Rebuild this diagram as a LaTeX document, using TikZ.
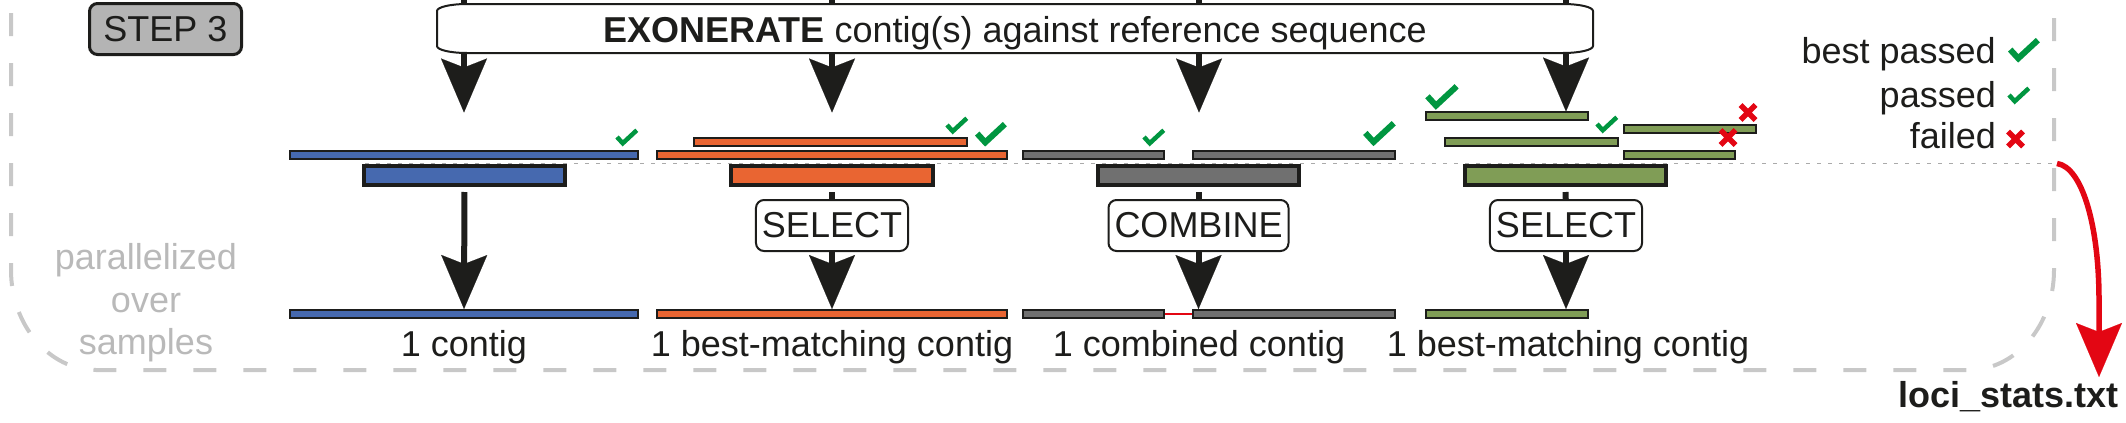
\documentclass[tikz,border=0pt]{standalone}
\usepackage{fontspec}
\setmainfont{Liberation Sans}
\usetikzlibrary{arrows.meta}
\definecolor{ink}{RGB}{29,29,27}
\definecolor{cblue}{RGB}{70,105,175}
\definecolor{corange}{RGB}{233,101,50}
\definecolor{cgray}{RGB}{112,112,112}
\definecolor{cgreen}{RGB}{128,157,86}
\definecolor{chkgreen}{RGB}{0,150,64}
\definecolor{xred}{RGB}{227,6,19}
\definecolor{framegray}{RGB}{200,200,200}
\definecolor{txtgray}{RGB}{185,185,185}
\definecolor{dotgray}{RGB}{170,170,170}
\definecolor{stepgray}{RGB}{180,180,180}
\newcommand\mytxt{\fontsize{36pt}{42pt}\selectfont}
\newcommand\Chk[4]{\draw[chk, line width=#4] ({#1+0.12*#3},{#2+0.36*#3}) -- ({#1+0.35*#3},{#2+0.61*#3}) -- ({#1+0.91*#3},{#2+0.09*#3});}
\newcommand\Xmk[2]{\draw[xmk] ({#1-7.5},{#2-7.5}) -- ({#1+7.5},{#2+7.5}) ({#1-7.5},{#2+7.5}) -- ({#1+7.5},{#2-7.5});}
\begin{document}
\begin{tikzpicture}[x=1pt,y=-1pt,
  lbl/.style={font=\mytxt, inner sep=0pt, anchor=base, text=ink},
  stepbox/.style={draw=ink, line width=3pt, fill=stepgray, rounded corners=8pt, minimum width=152pt, minimum height=51pt, inner sep=0pt, font=\mytxt, text=ink},
  thickbox/.style={draw=ink, line width=4pt, minimum height=19pt, inner sep=0pt},
  barnode/.style={draw=ink, line width=2pt, minimum height=7.5pt, inner sep=0pt},
  bar/.style={draw=ink, line width=2pt},
  opbox/.style={draw=ink, line width=2pt, fill=white, rounded corners=8pt, minimum height=51pt, inner xsep=6pt, inner ysep=0pt, font=\mytxt, text=ink},
  bigarr/.style={draw=ink, line width=6pt, -{Stealth[length=54pt,width=46pt,inset=9pt,line width=0.1pt]}},
  redarr/.style={draw=xred, line width=5.5pt, -{Stealth[length=54pt,width=46pt,inset=9pt,line width=0.1pt]}},
  frame/.style={draw=framegray, line width=4pt, dash pattern=on 23pt off 27pt},
  dotln/.style={draw=dotgray, line width=1.5pt, dash pattern=on 4pt off 7pt},
  chk/.style={draw=chkgreen, line join=miter},
  xmk/.style={draw=xred, line width=5.5pt},
  headbox/.style={draw=ink, line width=2pt, fill=white}
]
\useasboundingbox (0,0) rectangle (2126,423);

% dashed frame
\draw[frame] (11,13) -- (11,270) .. controls (11,325.2) and (49.1,370) .. (96,370)
  -- (1969,370) .. controls (2015.9,370) and (2054,325.2) .. (2054,270) -- (2054,0);

% dotted reference line
\coordinate (dotstart) at (365,163.5);
\coordinate (dotend) at (2057,163.5);
\draw[dotln] (dotstart) -- (dotend);

% step label
\node[stepbox] (step) at (165.5,29) {STEP 3};

% incoming lines and arrows through the headline box
\coordinate (in1) at (464,0);   \coordinate (tip1) at (464,112.5);
\coordinate (in2) at (832,0);   \coordinate (tip2) at (832,112.5);
\coordinate (in3) at (1199,0);  \coordinate (tip3) at (1199,112.5);
\coordinate (in4) at (1566,0);  \coordinate (tip4) at (1566,111.5);
\draw[bigarr] (in1) -- (tip1);
\draw[bigarr] (in2) -- (tip2);
\draw[bigarr] (in3) -- (tip3);
\draw[bigarr] (in4) -- (tip4);

% headline box
\draw[headbox] (467,4) -- (1563,4) .. controls (1579.6,4) and (1593,7.1) .. (1593,11)
  -- (1593,46) .. controls (1593,49.9) and (1579.6,53) .. (1563,53)
  -- (467,53) .. controls (450.4,53) and (437,49.9) .. (437,46)
  -- (437,11) .. controls (437,7.1) and (450.4,4) .. cycle;
\node[lbl] (exo) at (1015,42.5) {\textbf{EXONERATE} contig(s) against reference sequence};

% column 1 (blue)
\draw[bar, fill=cblue] (290,151) rectangle (638,158.5);
\node[thickbox, fill=cblue, minimum width=201pt] (th1) at (464.5,175.5) {};
\node[barnode, fill=cblue, minimum width=348pt] (bb1) at (464,313.75) {};
\draw[bigarr, shorten <=5pt] (th1) -- (bb1);
\Chk{614}{128}{25}{4.5pt}

% column 2 (orange)
\draw[bar, fill=corange] (694,138) rectangle (967,145.5);
\draw[bar, fill=corange] (657,151) rectangle (1007,158.5);
\node[thickbox, fill=corange, minimum width=202pt] (th2) at (832,175.5) {};
\node[opbox] (sel2) at (832,225.5) {SELECT};
\node[barnode, fill=corange, minimum width=350pt] (bb2) at (832,313.75) {};
\draw[draw=ink, line width=6pt, shorten <=5pt] (th2) -- (sel2);
\draw[bigarr] (sel2) -- (bb2);
\Chk{944}{116}{25}{4.5pt}
\Chk{973}{121}{35}{6pt}

% column 3 (gray)
\draw[bar, fill=cgray] (1023,151) rectangle (1164,158.5);
\draw[bar, fill=cgray] (1193,151) rectangle (1395,158.5);
\node[thickbox, fill=cgray, minimum width=201pt] (th3) at (1198.5,175.5) {};
\node[opbox] (sel3) at (1198.5,225.5) {COMBINE};
\node[barnode, fill=cgray, minimum width=141pt] (bb3l) at (1093.5,313.75) {};
\node[barnode, fill=cgray, minimum width=202pt] (bb3r) at (1294,313.75) {};
\draw[draw=xred, line width=2pt] (bb3l.east) -- (bb3r.west);
\draw[draw=ink, line width=6pt, shorten <=5pt] (th3) -- (sel3);
\draw[bigarr] (sel3) -- (sel3 |- bb3r.north);
\Chk{1141}{128}{25}{4.5pt}
\Chk{1361}{120}{36}{6pt}

% column 4 (green)
\draw[bar, fill=cgreen] (1426,112) rectangle (1588,120);
\draw[bar, fill=cgreen] (1445,138) rectangle (1618,146);
\draw[bar, fill=cgreen] (1624,125) rectangle (1756,133);
\draw[bar, fill=cgreen] (1624,150.5) rectangle (1735,158.5);
\node[thickbox, fill=cgreen, minimum width=201pt] (th4) at (1565.5,175.5) {};
\node[opbox] (sel4) at (1566,225.5) {SELECT};
\node[barnode, fill=cgreen, minimum width=162pt] (bb4) at (1507,313.75) {};
\draw[draw=ink, line width=6pt, shorten <=5pt] (th4) -- (sel4);
\draw[bigarr] (sel4) -- (sel4 |- bb4.north);
\Chk{1423}{83}{37}{6pt}
\Chk{1594}{115}{25}{4.5pt}
\Xmk{1748}{112.5}
\Xmk{1728}{137.5}

% labels under the bars
\node[lbl] (l1) at (464,356) {1 contig};
\node[lbl] (l2) at (832,356) {1 best-matching contig};
\node[lbl] (l3) at (1199,356) {1 combined contig};
\node[lbl] (l4) at (1568,356) {1 best-matching contig};

% parallelized note
\node[lbl, text=txtgray] (p1) at (146,269) {parallelized};
\node[lbl, text=txtgray] (p2) at (146,312) {over};
\node[lbl, text=txtgray] (p3) at (146,354) {samples};

% legend
\node[lbl, anchor=base east] (lg1) at (1996,63) {best passed};
\node[lbl, anchor=base east] (lg2) at (1996,107) {passed};
\node[lbl, anchor=base east] (lg3) at (1996,148) {failed};
\Chk{2006}{37}{35}{6pt}
\Chk{2006}{86}{25}{4.5pt}
\Xmk{2015.5}{139}

% output file
\node[lbl, font=\mytxt\bfseries] (stats) at (2008.5,407) {loci\_stats.txt};
\coordinate (redtip) at (2099,377);
\draw[redarr] (dotend) .. controls (2082,167) and (2099,225) .. (2099,300) -- (redtip);
\end{tikzpicture}
\end{document}
